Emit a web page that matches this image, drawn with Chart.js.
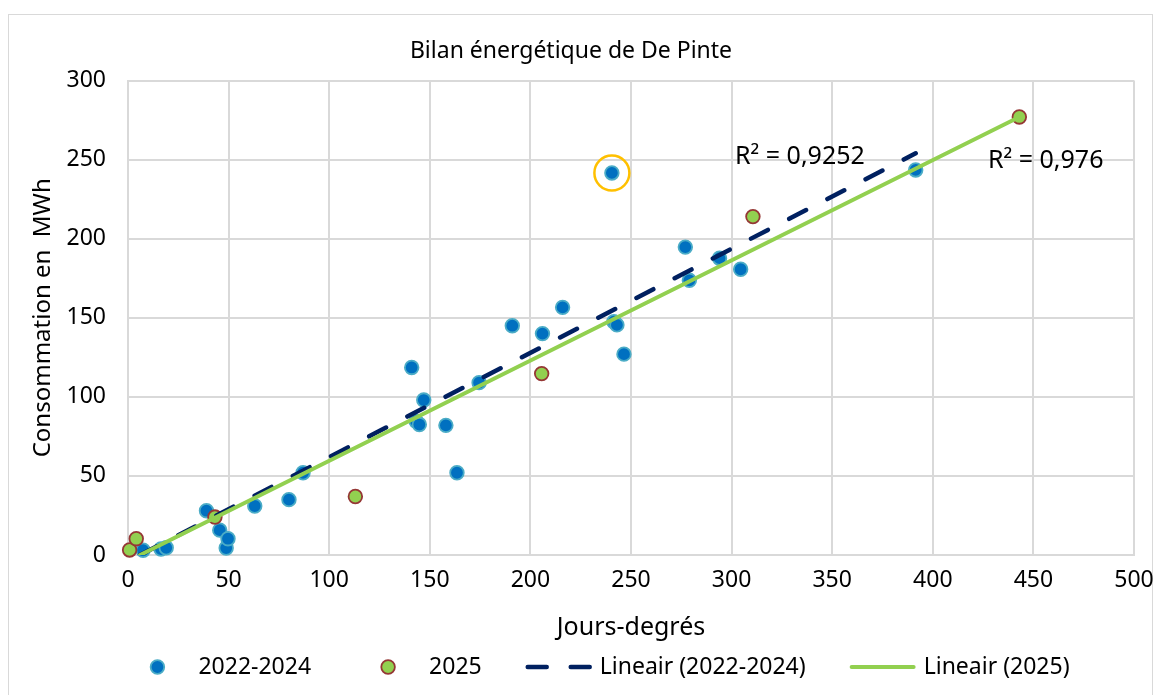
<!DOCTYPE html>
<html>
<head>
<meta charset="utf-8">
<script src="https://cdn.jsdelivr.net/npm/chart.js@4.4.1/dist/chart.umd.min.js"></script>
<style>
  html, body { margin: 0; padding: 0; background: #ffffff; }
  #wrap { width: 1162px; height: 695px; }
</style>
</head>
<body>
<div id="wrap"><canvas id="c" width="1162" height="695"></canvas></div>
<script>
// ---- Data -------------------------------------------------------------
const chartTitle = 'Bilan énergétique de De Pinte';
const xAxisTitle = 'Jours-degrés';
const yAxisTitle = 'Consommation en  MWh';

const seriesNames = ['2022-2024', '2025'];
const trendNames = ['Lineair (2022-2024)', 'Lineair (2025)'];

// Degree days vs. monthly consumption (MWh), 2022-2024
const degreeDays2224 = [7.5, 16.4, 19, 39, 45.6, 48.8, 49.7, 63, 80, 87,
  141, 143.2, 144.8, 147, 158, 163.5, 174.5, 191, 206, 216,
  240.5, 241.5, 243, 246.5, 277, 279, 294, 304.5, 391.5];
const consumption2224 = [3, 3.8, 4.6, 28, 15.7, 4.4, 10.3, 31, 35, 52,
  118.6, 84.6, 82.5, 98, 82, 52, 109, 145, 140, 156.6,
  241.6, 147.5, 145.5, 127, 194.7, 173.7, 187.7, 180.7, 243.5];

// Degree days vs. monthly consumption (MWh), 2025
const degreeDays2025 = [0.8, 4.1, 43.2, 113, 205.6, 310.6, 443];
const consumption2025 = [3.2, 10.3, 24, 37, 114.7, 214, 277];

// Linear trend lines (end points)
const trendX2224 = [6, 391.5];
const trendY2224 = [0, 254];
const trendX2025 = [6, 443];
const trendY2025 = [0, 277];

// Coefficients of determination of the two trend lines
const rSquaredTexts = ['R² = 0,9252', 'R² = 0,976'];

// Month flagged as an outlier
const outlierX = [240.5];
const outlierY = [241.6];

const xTickValues = [0, 50, 100, 150, 200, 250, 300, 350, 400, 450, 500];
const yTickValues = [0, 50, 100, 150, 200, 250, 300];

// ---- Styling ----------------------------------------------------------
const FONT = "'Noto Sans', 'Open Sans', sans-serif";
const TEXT = '#000000';
const GRID = '#d9d9d9';
const BLUE = '#0070c0', BLUE_EDGE = '#4bacc6';
const GREEN = '#92d050', GREEN_EDGE = '#953735';
const NAVY = '#002060';
const ORANGE = '#ffc000';

// R² labels are anchored in data units (left edge, vertical centre)
const rSquaredAnchors = [{ x: 301.7, y: 251.5 }, { x: 427.4, y: 249 }];

const toPoints = (xs, ys) => xs.map((x, i) => ({ x, y: ys[i] }));

Chart.defaults.font.family = FONT;
Chart.defaults.color = TEXT;

// White card with a thin grey frame behind the chart
const framePlugin = {
  id: 'frame',
  beforeDraw(chart) {
    const { ctx, width, height } = chart;
    ctx.save();
    ctx.fillStyle = '#ffffff';
    ctx.fillRect(0, 0, width, height);
    ctx.strokeStyle = GRID;
    ctx.lineWidth = 1;
    ctx.strokeRect(8.5, 14.5, 1144, height + 10);
    ctx.restore();
  }
};

// R² annotations beside the trend lines
const rSquaredPlugin = {
  id: 'rSquared',
  afterDatasetsDraw(chart) {
    const { ctx, scales } = chart;
    ctx.save();
    ctx.font = `25px ${FONT}`;
    ctx.fillStyle = TEXT;
    ctx.textAlign = 'left';
    ctx.textBaseline = 'middle';
    rSquaredTexts.forEach((t, i) => {
      const a = rSquaredAnchors[i];
      ctx.fillText(t, scales.x.getPixelForValue(a.x), scales.y.getPixelForValue(a.y));
    });
    ctx.restore();
  }
};

// Legend row at the bottom: markers for the series, line samples for the trends
const legendPlugin = {
  id: 'bottomLegend',
  afterDraw(chart) {
    const { ctx } = chart;
    const opts = chart.options.plugins.bottomLegend;
    const items = opts.items.map(i => chart.data.datasets[i]);
    ctx.save();
    ctx.font = `23px ${FONT}`;
    const widths = items.map(d => opts.symbolWidth + opts.textGap + ctx.measureText(d.label).width);
    const total = widths.reduce((a, b) => a + b, 0) + opts.itemGap * (items.length - 1);
    let x = opts.centerX - total / 2;
    const y = opts.y;
    items.forEach((d, i) => {
      const cx = x + opts.symbolWidth / 2;
      if (d.showLine) {
        ctx.beginPath();
        ctx.strokeStyle = d.borderColor;
        ctx.lineWidth = d.borderWidth;
        ctx.lineCap = 'round';
        ctx.setLineDash(d.borderDash || []);
        ctx.moveTo(x + 2, y);
        ctx.lineTo(x + opts.symbolWidth - 2, y);
        ctx.stroke();
        ctx.setLineDash([]);
      } else {
        ctx.beginPath();
        ctx.arc(cx, y, d.pointRadius, 0, Math.PI * 2);
        ctx.fillStyle = d.pointBackgroundColor;
        ctx.fill();
        ctx.lineWidth = d.pointBorderWidth;
        ctx.strokeStyle = d.pointBorderColor;
        ctx.stroke();
      }
      ctx.fillStyle = TEXT;
      ctx.textAlign = 'left';
      ctx.textBaseline = 'middle';
      ctx.fillText(d.label, x + opts.symbolWidth + opts.textGap, y);
      x += widths[i] + opts.itemGap;
    });
    ctx.restore();
  }
};

new Chart(document.getElementById('c'), {
  type: 'scatter',
  data: {
    datasets: [
      {
        label: seriesNames[0],
        data: toPoints(degreeDays2224, consumption2224),
        pointRadius: 6.8,
        pointBorderWidth: 1.8,
        pointBackgroundColor: BLUE,
        pointBorderColor: BLUE_EDGE,
        clip: false,
        order: 4
      },
      {
        label: seriesNames[1],
        data: toPoints(degreeDays2025, consumption2025),
        pointRadius: 6.8,
        pointBorderWidth: 1.8,
        pointBackgroundColor: GREEN,
        pointBorderColor: GREEN_EDGE,
        clip: false,
        order: 3
      },
      {
        label: trendNames[0],
        data: toPoints(trendX2224, trendY2224),
        showLine: true,
        borderColor: NAVY,
        borderWidth: 4.5,
        borderDash: [19, 24],
        borderCapStyle: 'round',
        pointRadius: 0,
        fill: false,
        order: 2
      },
      {
        label: trendNames[1],
        data: toPoints(trendX2025, trendY2025),
        showLine: true,
        borderColor: GREEN,
        borderWidth: 4,
        borderCapStyle: 'round',
        pointRadius: 0,
        fill: false,
        order: 1
      },
      {
        label: 'outlier',
        data: toPoints(outlierX, outlierY),
        pointRadius: 17.5,
        pointBorderWidth: 2.5,
        pointBackgroundColor: 'rgba(0,0,0,0)',
        pointBorderColor: ORANGE,
        clip: false,
        order: 0
      }
    ]
  },
  options: {
    responsive: false,
    devicePixelRatio: 1,
    animation: false,
    events: [],
    layout: { padding: { left: 8, right: 28, top: 0, bottom: 48 } },
    scales: {
      x: {
        type: 'linear',
        min: 0,
        max: 500,
        afterBuildTicks: s => { s.ticks = xTickValues.map(v => ({ value: v })); },
        afterFit: s => { s.height = 92; s.paddingLeft = 0; s.paddingRight = 0; },
        grid: { color: GRID, lineWidth: 2, drawTicks: false },
        border: { display: true, color: GRID, width: 2 },
        ticks: { color: TEXT, font: { size: 23 }, padding: 12, maxRotation: 0 },
        title: { display: true, text: xAxisTitle, color: TEXT, font: { size: 25 }, padding: { top: 0, bottom: 4 } }
      },
      y: {
        type: 'linear',
        min: 0,
        max: 300,
        afterBuildTicks: s => { s.ticks = yTickValues.map(v => ({ value: v })); },
        afterFit: s => { s.width = 120; s.paddingTop = 0; s.paddingBottom = 0; },
        grid: { color: GRID, lineWidth: 2, drawTicks: false },
        border: { display: true, color: GRID, width: 2 },
        ticks: { color: TEXT, font: { size: 23 }, padding: 22 },
        title: { display: true, text: yAxisTitle, color: TEXT, font: { size: 24 }, padding: { top: 21, bottom: 0 } }
      }
    },
    plugins: {
      legend: { display: false },
      tooltip: { enabled: false },
      title: {
        display: true,
        text: chartTitle,
        color: TEXT,
        font: { size: 23, weight: 'normal' },
        padding: { top: 38, bottom: 15 }
      },
      bottomLegend: { items: [0, 1, 2, 3], symbolWidth: 66, textGap: 8, itemGap: 44, centerX: 597, y: 667 }
    }
  },
  plugins: [framePlugin, rSquaredPlugin, legendPlugin]
});
</script>
</body>
</html>
